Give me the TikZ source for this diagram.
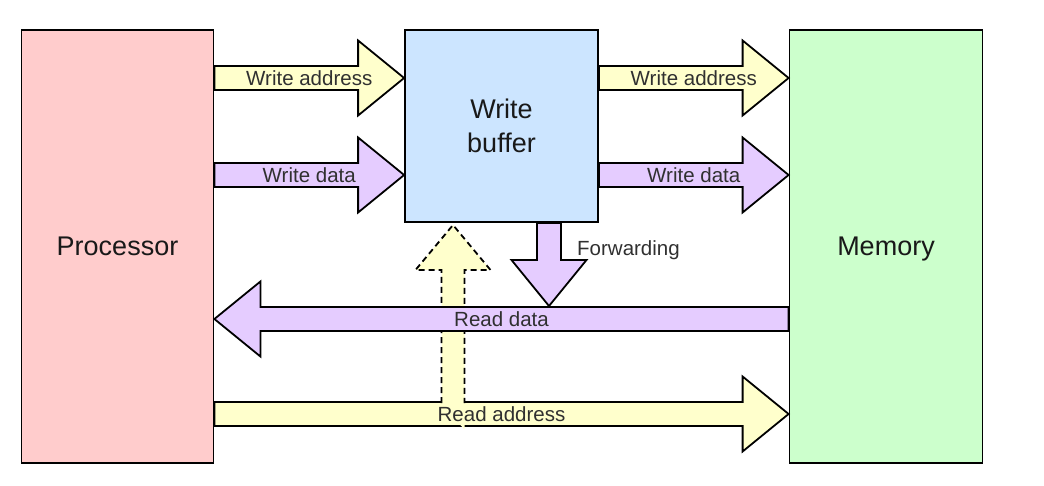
\documentclass[tikz,border=0pt]{standalone}
\usepackage{fontspec}
\setmainfont{Liberation Sans}
\usetikzlibrary{calc}
\definecolor{procfill}{HTML}{FFCCCC}
\definecolor{buffill}{HTML}{CCE5FF}
\definecolor{memfill}{HTML}{CCFFCC}
\definecolor{yelfill}{HTML}{FFFFCC}
\definecolor{purfill}{HTML}{E5CCFF}
\definecolor{txtgray}{HTML}{303030}
\tikzset{
  box/.style={draw=black, line width=1.8pt, inner sep=0pt, font=\fontsize{27}{34}\selectfont, text=black!90, align=center},
  fat/.style={draw=black, line width=1.8pt, line join=miter},
  lbl/.style={inner sep=0pt, font=\fontsize{20.5}{24}\selectfont, text=txtgray},
}
% #1 tail, #2 tip, #3 style
\newcommand\fatarrow[3]{%
  \path ($(#2)!46pt!(#1)$) coordinate (fahead);
  \draw[fat,#3] ($(#1)!12pt!90:(#2)$) -- ($(fahead)!12pt!90:(#2)$) -- ($(fahead)!37.5pt!90:(#2)$) -- (#2)
     -- ($(fahead)!37.5pt!-90:(#2)$) -- ($(fahead)!12pt!-90:(#2)$) -- ($(#1)!12pt!-90:(#2)$) -- cycle;
}
\begin{document}
\begin{tikzpicture}[x=1pt,y=-1pt]
\useasboundingbox (0,0) rectangle (1044,486);
% blocks
\node[box, fill=procfill, minimum width=192pt, minimum height=433pt, text depth=0pt] (proc) at (117.5,246.5) {Processor};
\node[box, fill=buffill, minimum width=193pt, minimum height=192pt] (wb) at (501.5,126) {Write\\buffer};
\node[box, fill=memfill, minimum width=193pt, minimum height=433pt, text depth=0pt] (mem) at (886,246.5) {Memory};
% anchor points
\coordinate (wa1) at (proc.east |- 0,78);
\coordinate (wa2) at (wb.west |- 0,78);
\coordinate (wd1) at (proc.east |- 0,175);
\coordinate (wd2) at (wb.west |- 0,175);
\coordinate (wa3) at (wb.east |- 0,78);
\coordinate (wa4) at (mem.west |- 0,78);
\coordinate (wd3) at (wb.east |- 0,175);
\coordinate (wd4) at (mem.west |- 0,175);
\coordinate (rd1) at (mem.west |- 0,319);
\coordinate (rd2) at (proc.east |- 0,319);
\coordinate (ra1) at (proc.east |- 0,414);
\coordinate (ra2) at (mem.west |- 0,414);
\coordinate (fw1) at (wb.south -| 549,0);
\coordinate (fw2) at (549,306);
\coordinate (rb1) at (453,403);
\coordinate (rb2) at (453,225);
% write arrows
\fatarrow{wa1}{wa2}{fill=yelfill}
\fatarrow{wd1}{wd2}{fill=purfill}
\fatarrow{wa3}{wa4}{fill=yelfill}
\fatarrow{wd3}{wd4}{fill=purfill}
% read address
\fatarrow{ra1}{ra2}{fill=yelfill}
% dashed bypass arrow (open at bottom)
\path ($(rb2)!45pt!(rb1)$) coordinate (rbh);
\fill[yelfill] ($(rb1)!11.5pt!90:(rb2)$) ++(0,1.4) -- ($(rbh)!11.5pt!90:(rb2)$) -- ($(rbh)!37.5pt!90:(rb2)$) -- (rb2)
   -- ($(rbh)!37.5pt!-90:(rb2)$) -- ($(rbh)!11.5pt!-90:(rb2)$) -- ++(0,159.4) -- cycle;
\draw[line width=1.8pt, dash pattern=on 6pt off 4pt, line join=miter] ($(rb1)!11.5pt!90:(rb2)$) -- ($(rbh)!11.5pt!90:(rb2)$) -- ($(rbh)!37.5pt!90:(rb2)$) -- (rb2)
   -- ($(rbh)!37.5pt!-90:(rb2)$) -- ($(rbh)!11.5pt!-90:(rb2)$) -- ($(rb1)!11.5pt!-90:(rb2)$);
% read data
\fatarrow{rd1}{rd2}{fill=purfill}
% forwarding
\fatarrow{fw1}{fw2}{fill=purfill}
% labels
\node[lbl] (lwa1) at ($(wa1)!0.5!(wa2)$) {Write address};
\node[lbl] (lwd1) at ($(wd1)!0.5!(wd2)$) {Write data};
\node[lbl] (lwa2) at ($(wa3)!0.5!(wa4)$) {Write address};
\node[lbl] (lwd2) at ($(wd3)!0.5!(wd4)$) {Write data};
\node[lbl] (lrd) at ($(rd1)!0.5!(rd2)$) {Read data};
\node[lbl] (lra) at ($(ra1)!0.5!(ra2)$) {Read address};
\node[lbl, anchor=west] (lfw) at (577,250) {Forwarding};
\end{tikzpicture}
\end{document}
